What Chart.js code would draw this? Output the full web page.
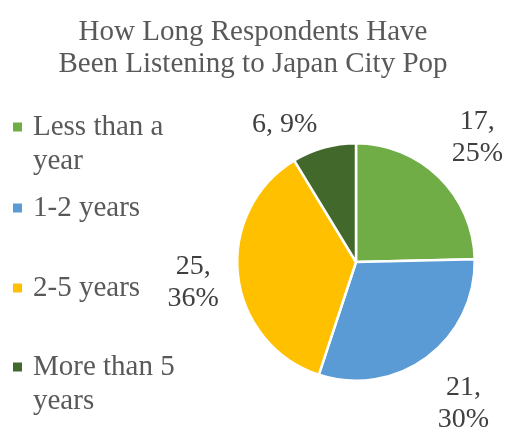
<!DOCTYPE html>
<html>
<head>
<meta charset="utf-8">
<script src="https://cdn.jsdelivr.net/npm/chart.js@4"></script>
<style>
  body { margin: 0; background: #fff; }
</style>
</head>
<body>
<canvas id="cityPop" width="506" height="429"></canvas>
<script>
var categories = ['Less than a year', '1-2 years', '2-5 years', 'More than 5 years']
var respondents = [17, 21, 25, 6]
var dataLabels = ['17,\n25%', '21,\n30%', '25,\n36%', '6, 9%']
var sliceColors = ['#70AD47', '#5B9BD5', '#FFC000', '#43682B']
var titleLines = ['How Long Respondents Have', 'Been Listening to Japan City Pop']

var serif = '"Liberation Serif", "Times New Roman", serif'

// title, wrapped legend and outside labels drawn by hand (excel look)
const cityPopText = {
  id: 'cityPopText',
  afterDraw(chart, args, opts) {
    const c = chart.ctx
    c.save()
    c.textBaseline = 'middle'

    c.fillStyle = '#595959'
    c.font = '29px ' + serif
    c.textAlign = 'center'
    titleLines.forEach((t, i) => c.fillText(t, 253, 32 + i * 32))

    // legend
    c.textAlign = 'left'
    categories.forEach((name, i) => {
      var y = opts.legendY[i]
      c.fillStyle = sliceColors[i]
      c.fillRect(13, y - 4.5, 9, 9)
      c.fillStyle = '#595959'
      var words = name.split(' ')
      var line = ''
      var lines = []
      words.forEach(w => {
        var test = line ? line + ' ' + w : w
        if (c.measureText(test).width > 150 && line) {
          lines.push(line)
          line = w
        } else {
          line = test
        }
      })
      lines.push(line)
      lines.forEach((l, j) => c.fillText(l, 33, y + j * 34))
    })

    // data labels outside the slices
    c.font = '28px ' + serif
    c.fillStyle = '#404040'
    c.textAlign = 'center'
    const meta = chart.getDatasetMeta(0)
    meta.data.forEach((arc, i) => {
      const p = arc.getProps(['x', 'y', 'startAngle', 'endAngle', 'outerRadius'], true)
      const mid = (p.startAngle + p.endAngle) / 2
      const dx = Math.cos(mid), dy = Math.sin(mid)
      const lines = dataLabels[i].split('\n')
      const w = Math.max(...lines.map(l => c.measureText(l).width))
      const h = lines.length * 32
      const ext = Math.abs(dx) * w / 2 + Math.abs(dy) * h / 2
      const d = p.outerRadius + 14 + ext
      const nudge = opts.labelNudge[i]
      const cx = p.x + dx * d + nudge[0]
      const cy = p.y + dy * d + nudge[1]
      lines.forEach((l, j) => c.fillText(l, cx, cy - h / 2 + 16 + j * 32))
    })
    c.restore()
  }
}

const ctx = document.getElementById('cityPop')

new Chart(ctx, {
  type: 'pie',
  data: {
    labels: categories,
    datasets: [{
      data: respondents,
      backgroundColor: sliceColors,
      borderColor: '#ffffff',
      borderWidth: 2.5
    }]
  },
  options: {
    responsive: false,
    animation: false,
    layout: {
      padding: { left: 236, right: 30, top: 142, bottom: 47 }
    },
    plugins: {
      legend: { display: false },
      tooltip: { enabled: false },
      cityPopText: {
        legendY: [127, 208, 288, 367],
        labelNudge: [[0, 0], [4, 2], [-2, 2], [-29, 14]]
      }
    }
  },
  plugins: [cityPopText]
})
</script>
</body>
</html>
